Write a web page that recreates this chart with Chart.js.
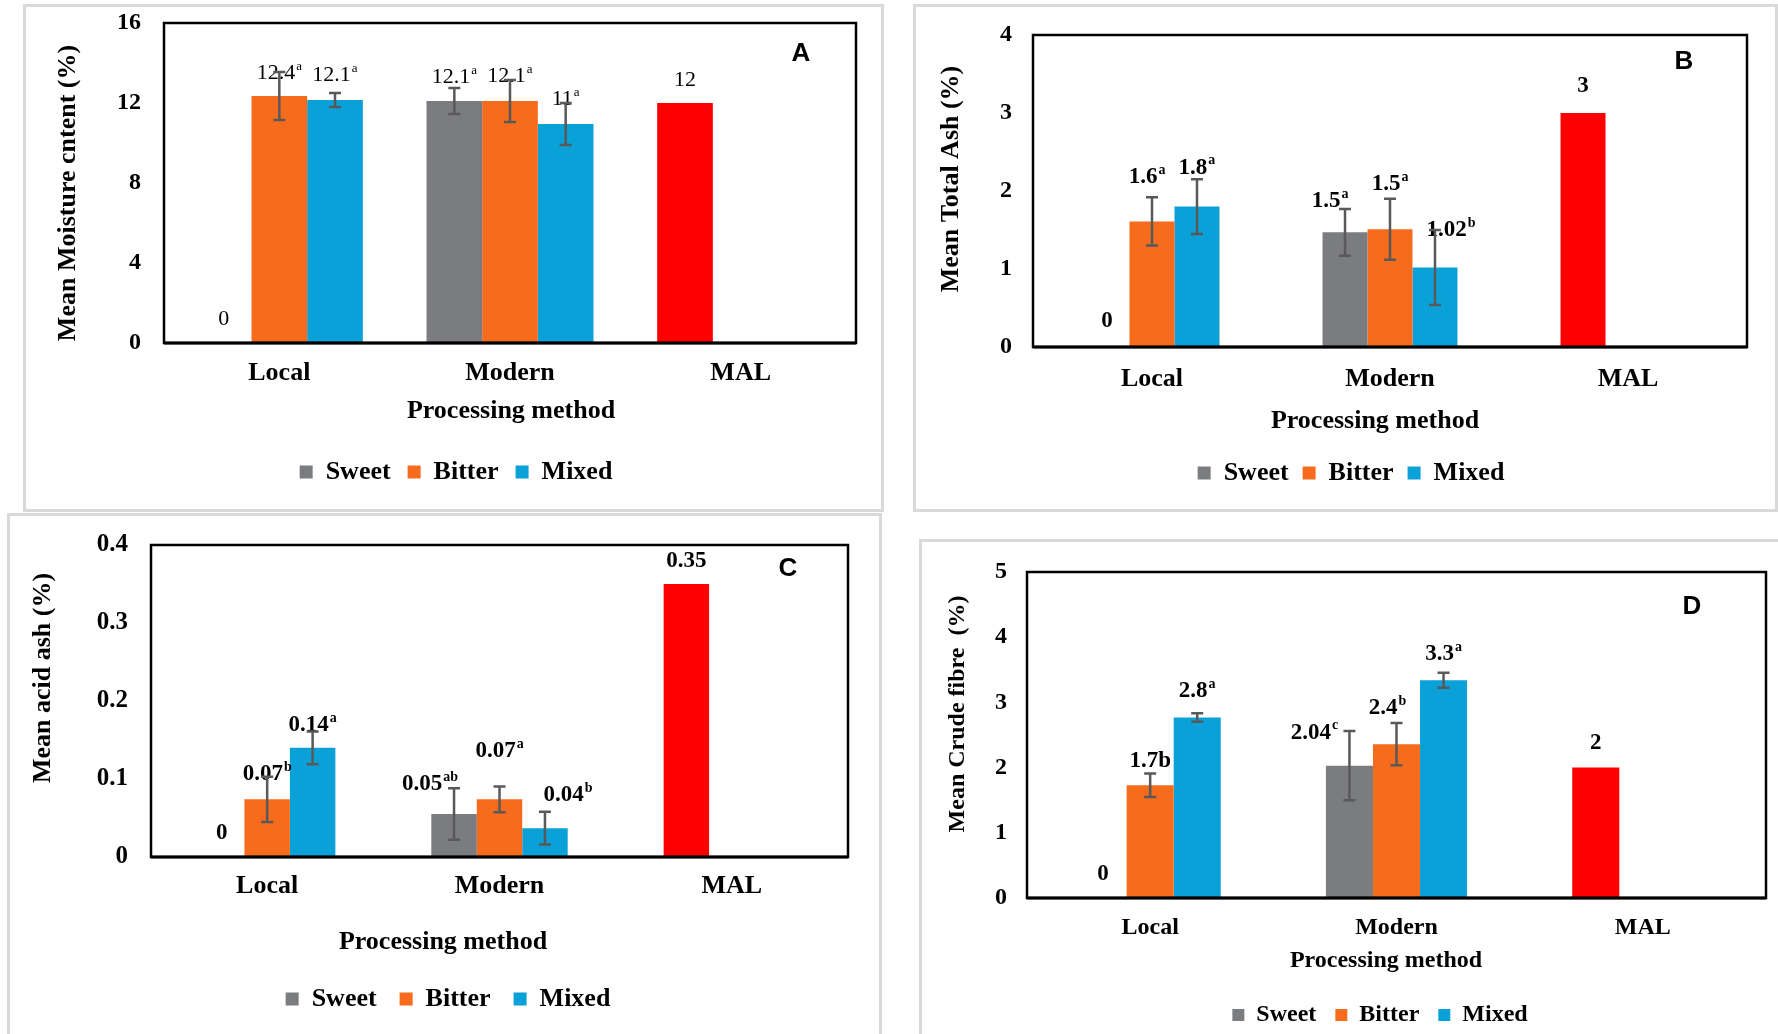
<!DOCTYPE html>
<html>
<head>
<meta charset="utf-8">
<script src="https://cdn.jsdelivr.net/npm/chart.js@4.4.1/dist/chart.umd.min.js"></script>
<style>
html,body{margin:0;padding:0;background:#fff;}
body{width:1778px;height:1034px;position:relative;overflow:hidden;}
.frame{position:absolute;border:3px solid #d9d9d9;box-sizing:border-box;}
.holder{position:absolute;}
</style>
</head>
<body>
<script>
// ---------- data ----------
const categories = ['Local', 'Modern', 'MAL'];
const seriesNames = ['Sweet', 'Bitter', 'Mixed'];
const xAxisTitle = 'Processing method';

// A – moisture
const moistureTicks = [0, 4, 8, 12, 16];
const moistureSweet = [0, 12.1, 12.0];
const moistureBitter = [12.35, 12.1, null];
const moistureMixed = [12.15, 10.95, null];
const moistureSweetErr = [null, 0.65, null];
const moistureBitterErr = [1.2, 1.05, null];
const moistureMixedErr = [0.35, 1.05, null];
const moistureSweetLbl = ['0', '12.1', '12'];
const moistureBitterLbl = ['12.4', '12.1', null];
const moistureMixedLbl = ['12.1', '11', null];
const moistureSweetSup = ['', 'a', ''];
const moistureBitterSup = ['a', 'a', ''];
const moistureMixedSup = ['a', 'a', ''];

// B – total ash
const ashTicks = [0, 1, 2, 3, 4];
const ashSweet = [0, 1.47, 3.0];
const ashBitter = [1.61, 1.51, null];
const ashMixed = [1.8, 1.02, null];
const ashSweetErr = [null, 0.3, null];
const ashBitterErr = [0.31, 0.39, null];
const ashMixedErr = [0.35, 0.48, null];
const ashSweetLbl = ['0', '1.5', '3'];
const ashBitterLbl = ['1.6', '1.5', null];
const ashMixedLbl = ['1.8', '1.02', null];
const ashSweetSup = ['', 'a', ''];
const ashBitterSup = ['a', 'a', ''];
const ashMixedSup = ['a', 'b', ''];

// C – acid ash
const acidTicks = [0, 0.1, 0.2, 0.3, 0.4];
const acidSweet = [0, 0.055, 0.35];
const acidBitter = [0.074, 0.074, null];
const acidMixed = [0.14, 0.037, null];
const acidSweetErr = [null, 0.033, null];
const acidBitterErr = [0.029, 0.0165, null];
const acidMixedErr = [0.021, 0.021, null];
const acidSweetLbl = ['0', '0.05', '0.35'];
const acidBitterLbl = ['0.07', '0.07', null];
const acidMixedLbl = ['0.14', '0.04', null];
const acidSweetSup = ['', 'ab', ''];
const acidBitterSup = ['b', 'a', ''];
const acidMixedSup = ['a', 'b', ''];

// D – crude fibre
const fibreTicks = [0, 1, 2, 3, 4, 5];
const fibreSweet = [0, 2.03, 2.0];
const fibreBitter = [1.73, 2.36, null];
const fibreMixed = [2.77, 3.34, null];
const fibreSweetErr = [null, 0.53, null];
const fibreBitterErr = [0.18, 0.325, null];
const fibreMixedErr = [0.065, 0.115, null];
const fibreSweetLbl = ['0', '2.04', '2'];
const fibreBitterLbl = ['1.7b', '2.4', null];
const fibreMixedLbl = ['2.8', '3.3', null];
const fibreSweetSup = ['', 'c', ''];
const fibreBitterSup = ['', 'b', ''];
const fibreMixedSup = ['a', 'a', ''];

// ---------- styles / layout ----------
const SERIF = '"Liberation Serif", "Times New Roman", serif';
const SANS = '"Liberation Sans", Arial, sans-serif';
const COL = { Sweet: '#7b7c80', Bitter: '#f76b1c', Mixed: '#0aa1d9', MAL: '#ff0000' };

const panels = [
  {
    id: 'A', frame: { x: 23, y: 4, w: 861, h: 508 }, border: { x: 23, y: 4, w: 861, h: 508 },
    plot: { l: 164, t: 23, r: 856, b: 343 }, ticks: moistureTicks, catPct: 0.724,
    values: [moistureSweet, moistureBitter, moistureMixed],
    errors: [moistureSweetErr, moistureBitterErr, moistureMixedErr],
    labels: [moistureSweetLbl, moistureBitterLbl, moistureMixedLbl],
    sups: [moistureSweetSup, moistureBitterSup, moistureMixedSup],
    shifts: [[[0, 24], [0, 24], [0, 23]], [[0, 23], [0, 25]], [[0, 25], [0, 25]]],
    labelFont: { weight: 'normal', size: 22 },
    yTitle: 'Mean Moisture cntent (%)', yTitlePos: [68, 193], titleSize: 26,
    xTitlePos: [511, 411], legendCenter: [456, 472], legendSize: 26, legendPad: 17, box: 13,
    letterPos: [801, 54], catSize: 26, catPad: 15, tickSize: 24, tickPad: 23
  },
  {
    id: 'B', frame: { x: 913, y: 4, w: 865, h: 508 }, border: { x: 913, y: 4, w: 865, h: 508 },
    plot: { l: 1033, t: 35, r: 1747, b: 347 }, ticks: ashTicks, catPct: 0.567,
    values: [ashSweet, ashBitter, ashMixed],
    errors: [ashSweetErr, ashBitterErr, ashMixedErr],
    labels: [ashSweetLbl, ashBitterLbl, ashMixedLbl],
    sups: [ashSweetSup, ashBitterSup, ashMixedSup],
    shifts: [[[0, 26], [-15, 31], [0, 27]], [[-5, 44], [0, 45]], [[0, 39], [16, 37]]],
    labelFont: { weight: 'bold', size: 23 },
    yTitle: 'Mean Total Ash (%)', yTitlePos: [951, 179], titleSize: 26,
    xTitlePos: [1375, 421], legendCenter: [1351, 473], legendSize: 26, legendPad: 14, box: 13,
    letterPos: [1684, 62], catSize: 26, catPad: 17, tickSize: 24, tickPad: 21
  },
  {
    id: 'C', frame: { x: 7, y: 513, w: 875, h: 521 }, border: { x: 7, y: 513, w: 875, h: 600 },
    plot: { l: 151, t: 545, r: 848, b: 857 }, ticks: acidTicks, catPct: 0.587,
    values: [acidSweet, acidBitter, acidMixed],
    errors: [acidSweetErr, acidBitterErr, acidMixedErr],
    labels: [acidSweetLbl, acidBitterLbl, acidMixedLbl],
    sups: [acidSweetSup, acidBitterSup, acidMixedSup],
    shifts: [[[0, 24], [-24, 30], [0, 23]], [[0, 25], [0, 48]], [[0, 23], [23, 33]]],
    labelFont: { weight: 'bold', size: 23 },
    yTitle: 'Mean acid ash (%)', yTitlePos: [43, 678], titleSize: 26,
    xTitlePos: [443, 942], legendCenter: [448, 999], legendSize: 26, legendPad: 23, box: 13,
    letterPos: [788, 569], catSize: 26, catPad: 14, tickSize: 25, tickPad: 23
  },
  {
    id: 'D', frame: { x: 919, y: 539, w: 859, h: 495 }, border: { x: 919, y: 539, w: 900, h: 600 },
    plot: { l: 1027, t: 572, r: 1766, b: 898 }, ticks: fibreTicks, catPct: 0.573,
    values: [fibreSweet, fibreBitter, fibreMixed],
    errors: [fibreSweetErr, fibreBitterErr, fibreMixedErr],
    labels: [fibreSweetLbl, fibreBitterLbl, fibreMixedLbl],
    sups: [fibreSweetSup, fibreBitterSup, fibreMixedSup],
    shifts: [[[0, 24], [-35, 33], [0, 25]], [[0, 24], [-9, 36]], [[0, 26], [0, 26]]],
    labelFont: { weight: 'bold', size: 23 },
    yTitle: 'Mean Crude fibre  (%)', yTitlePos: [958, 714], titleSize: 24,
    xTitlePos: [1386, 961], legendCenter: [1380, 1015], legendSize: 24, legendPad: 19, box: 12,
    letterPos: [1692, 607], catSize: 24, catPad: 15, tickSize: 24, tickPad: 20
  }
];

function drawLabel(ctx, x, y, main, sup, f) {
  const mainFont = `${f.weight} ${f.size}px ${SERIF}`;
  const supSize = Math.round(f.size * 0.6);
  const supFont = `${f.weight} ${supSize}px ${SERIF}`;
  ctx.font = mainFont;
  const w1 = ctx.measureText(main).width;
  let w2 = 0;
  if (sup) { ctx.font = supFont; w2 = ctx.measureText(sup).width + 1; }
  const x0 = x - (w1 + w2) / 2;
  ctx.textAlign = 'left';
  ctx.textBaseline = 'middle';
  ctx.font = mainFont;
  ctx.fillText(main, x0, y);
  if (sup) { ctx.font = supFont; ctx.fillText(sup, x0 + w1 + 1, y - f.size * 0.3); }
}

function decor(p) {
  return {
    id: 'decor' + p.id,
    afterLayout(chart) {
      const lg = chart.legend;
      if (!lg) return;
      const cx = p.legendCenter[0] - p.frame.x;
      const cy = p.legendCenter[1] - p.frame.y;
      const dx = cx - (lg.left + lg.right) / 2;
      const dy = cy - (lg.top + p.legendPad + p.legendSize / 2);
      lg.left += dx; lg.right += dx; lg.top += dy; lg.bottom += dy;
    },
    afterDatasetsDraw(chart) {
      const ctx = chart.ctx, a = chart.chartArea, ys = chart.scales.y;
      // data labels
      ctx.save();
      ctx.fillStyle = '#000';
      p.labels.forEach((arr, di) => {
        const meta = chart.getDatasetMeta(di);
        arr.forEach((txt, j) => {
          if (txt == null) return;
          const el = meta.data[j];
          const sh = (p.shifts[di] && p.shifts[di][j]) || [0, 24];
          drawLabel(ctx, el.x + sh[0], el.y - sh[1], txt, p.sups[di][j], p.labelFont);
        });
      });
      ctx.restore();
      // error bars
      ctx.save();
      ctx.strokeStyle = '#595959';
      ctx.lineWidth = 2.5;
      p.errors.forEach((errs, di) => {
        const meta = chart.getDatasetMeta(di);
        errs.forEach((e, j) => {
          if (e == null) return;
          const v = p.values[di][j];
          const el = meta.data[j];
          const yT = ys.getPixelForValue(v + e), yB = ys.getPixelForValue(v - e);
          ctx.beginPath();
          ctx.moveTo(el.x, yT); ctx.lineTo(el.x, yB);
          ctx.moveTo(el.x - 6, yT); ctx.lineTo(el.x + 6, yT);
          ctx.moveTo(el.x - 6, yB); ctx.lineTo(el.x + 6, yB);
          ctx.stroke();
        });
      });
      ctx.restore();
      // plot border
      ctx.save();
      ctx.strokeStyle = '#000';
      ctx.lineWidth = 2.5;
      ctx.strokeRect(a.left, a.top, a.right - a.left, a.bottom - a.top);
      ctx.lineWidth = 3;
      ctx.beginPath(); ctx.moveTo(a.left, a.bottom); ctx.lineTo(a.right, a.bottom); ctx.stroke();
      ctx.restore();
    },
    afterDraw(chart) {
      const ctx = chart.ctx, ox = p.frame.x, oy = p.frame.y;
      ctx.save();
      ctx.fillStyle = '#000';
      ctx.textAlign = 'center';
      ctx.textBaseline = 'middle';
      ctx.font = `bold ${p.titleSize}px ${SERIF}`;
      ctx.fillText(xAxisTitle, p.xTitlePos[0] - ox, p.xTitlePos[1] - oy);
      ctx.save();
      ctx.translate(p.yTitlePos[0] - ox, p.yTitlePos[1] - oy);
      ctx.rotate(-Math.PI / 2);
      ctx.fillText(p.yTitle, 0, 0);
      ctx.restore();
      ctx.font = `bold 26px ${SANS}`;
      ctx.fillText(p.id, p.letterPos[0] - ox, p.letterPos[1] - oy);
      ctx.restore();
    }
  };
}

function buildPanel(p) {
  const fr = document.createElement('div');
  fr.className = 'frame';
  Object.assign(fr.style, { left: p.border.x + 'px', top: p.border.y + 'px', width: p.border.w + 'px', height: p.border.h + 'px' });
  document.body.appendChild(fr);

  const W = p.frame.w, H = p.frame.h;
  const holder = document.createElement('div');
  holder.className = 'holder';
  Object.assign(holder.style, { left: p.frame.x + 'px', top: p.frame.y + 'px', width: W + 'px', height: H + 'px' });
  const cv = document.createElement('canvas');
  cv.width = W; cv.height = H;
  cv.style.width = W + 'px'; cv.style.height = H + 'px';
  holder.appendChild(cv);
  document.body.appendChild(holder);

  const datasets = seriesNames.map((name, i) => ({
    label: name,
    data: p.values[i],
    backgroundColor: i === 0 ? p.values[i].map((v, j) => categories[j] === 'MAL' ? COL.MAL : COL.Sweet) : COL[name],
    borderWidth: 0,
    categoryPercentage: p.catPct,
    barPercentage: 1.0
  }));

  new Chart(cv, {
    type: 'bar',
    data: { labels: categories, datasets },
    options: {
      responsive: false,
      animation: false,
      layout: { padding: { left: 0, top: p.plot.t - p.frame.y, right: p.frame.x + W - p.plot.r, bottom: 0 } },
      plugins: {
        legend: {
          display: true, position: 'bottom',
          labels: { color: '#000', font: { family: SERIF, size: p.legendSize, weight: 'bold' }, boxWidth: p.box, boxHeight: p.box, padding: p.legendPad }
        },
        tooltip: { enabled: false },
        title: { display: false }
      },
      scales: {
        x: {
          grid: { display: false, drawTicks: false, tickLength: 0 },
          border: { display: false },
          ticks: { color: '#000', font: { family: SERIF, size: p.catSize, weight: 'bold' }, padding: p.catPad, maxRotation: 0, autoSkip: false },
          afterFit: s => {
            const lg = s.chart.legend;
            s.height = H - (lg ? lg.height : 0) - (p.plot.b - p.frame.y);
            s.paddingLeft = 0; s.paddingRight = 0;
          }
        },
        y: {
          min: p.ticks[0], max: p.ticks[p.ticks.length - 1],
          grid: { display: false, drawTicks: false, tickLength: 0 },
          border: { display: false },
          afterBuildTicks: s => { s.ticks = p.ticks.map(v => ({ value: v })); },
          ticks: { color: '#000', font: { family: SERIF, size: p.tickSize, weight: 'bold' }, padding: p.tickPad, callback: v => String(v) },
          afterFit: s => { s.width = p.plot.l - p.frame.x; s.paddingTop = 0; s.paddingBottom = 0; }
        }
      }
    },
    plugins: [decor(p)]
  });
}

panels.forEach(buildPanel);
</script>
</body>
</html>
